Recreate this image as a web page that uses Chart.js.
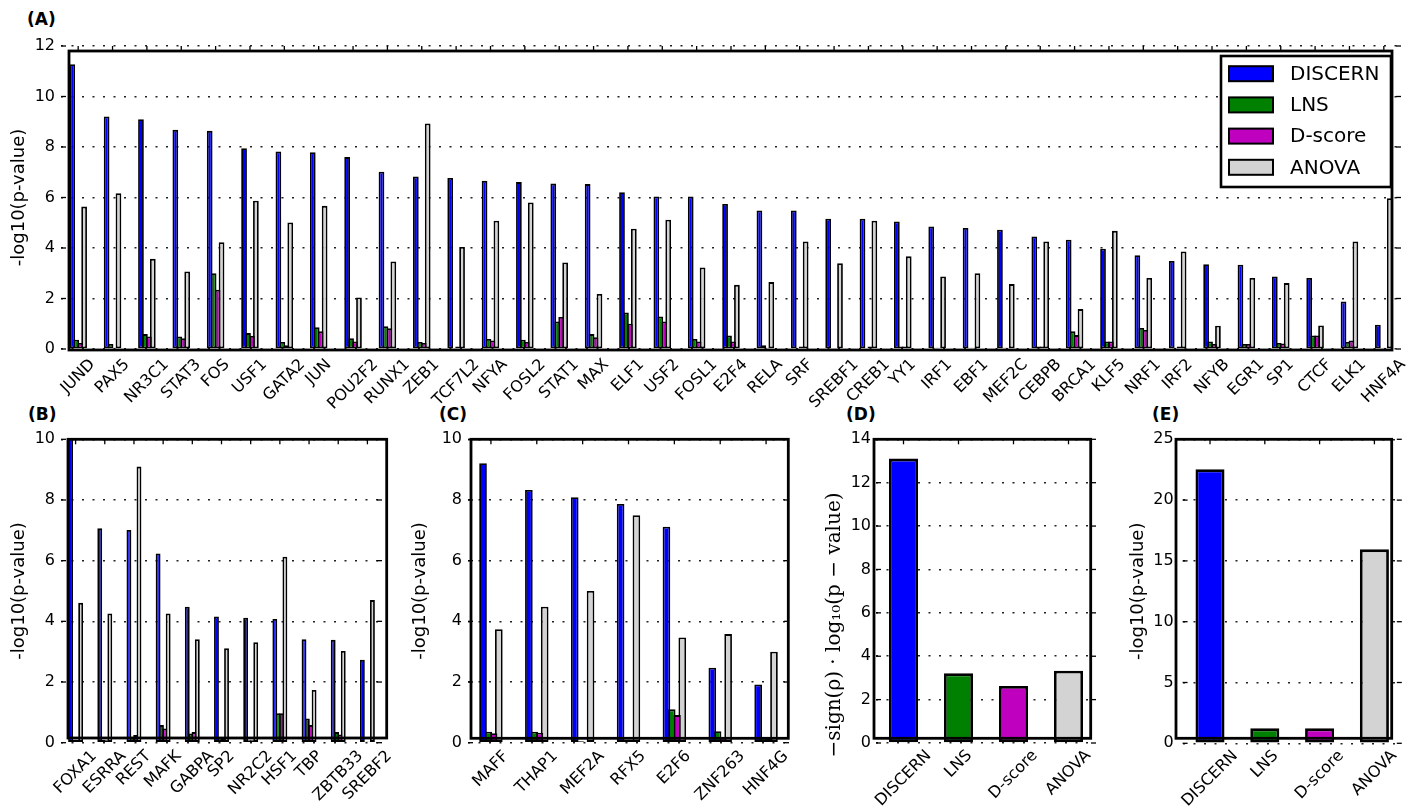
<!DOCTYPE html>
<html>
<head>
<meta charset="utf-8">
<script src="https://cdn.jsdelivr.net/npm/chart.js@4/dist/chart.umd.min.js"></script>
<style>
  html, body { margin: 0; padding: 0; background: #fff; }
  body { width: 1420px; height: 809px; position: relative; overflow: hidden; font-family: 'DejaVu Sans', sans-serif; }
  canvas { position: absolute; }
  .tag { position: absolute; font: bold 17px 'DejaVu Sans', sans-serif; line-height: 20px; color: #000; }
</style>
</head>
<body>
<div class="tag" style="left:27px;top:9px">(A)</div>
<div class="tag" style="left:28px;top:404px">(B)</div>
<div class="tag" style="left:439px;top:404px">(C)</div>
<div class="tag" style="left:846px;top:404px">(D)</div>
<div class="tag" style="left:1152px;top:404px">(E)</div>

<canvas id="cA" width="1420" height="420" style="left:0;top:0"></canvas>
<canvas id="cB" width="400" height="409" style="left:0;top:400px"></canvas>
<canvas id="cC" width="400" height="409" style="left:400px;top:400px"></canvas>
<canvas id="cD" width="310" height="409" style="left:800px;top:400px"></canvas>
<canvas id="cE" width="310" height="409" style="left:1110px;top:400px"></canvas>

<script>
// ---- methods compared ----
const methods = ['DISCERN', 'LNS', 'D-score', 'ANOVA'];
const methodColors = ['#0000ff', '#008000', '#bf00bf', '#d3d3d3'];

// ---- (A) transcription factors ----
const tfA = ['JUND','PAX5','NR3C1','STAT3','FOS','USF1','GATA2','JUN','POU2F2','RUNX1','ZEB1','TCF7L2','NFYA','FOSL2','STAT1','MAX','ELF1','USF2','FOSL1','E2F4','RELA','SRF','SREBF1','CREB1','YY1','IRF1','EBF1','MEF2C','CEBPB','BRCA1','KLF5','NRF1','IRF2','NFYB','EGR1','SP1','CTCF','ELK1','HNF4A'];
const discernA = [11.28, 9.21, 9.10, 8.68, 8.64, 7.95, 7.82, 7.79, 7.60, 7.02, 6.83, 6.77, 6.66, 6.61, 6.55, 6.53, 6.21, 6.04, 6.04, 5.74, 5.49, 5.49, 5.16, 5.16, 5.05, 4.85, 4.79, 4.72, 4.46, 4.33, 3.97, 3.71, 3.49, 3.36, 3.34, 2.87, 2.81, 1.88, 0.96];
const lnsA     = [0.37, 0.20, 0.59, 0.50, 3.00, 0.63, 0.28, 0.86, 0.43, 0.90, 0.28, 0.02, 0.40, 0.37, 1.09, 0.59, 1.45, 1.29, 0.40, 0.53, 0.15, 0.05, 0.02, 0.03, 0.10, 0.05, 0.05, 0.05, 0.10, 0.70, 0.30, 0.83, 0.05, 0.30, 0.20, 0.24, 0.53, 0.28, 0.02];
const dscoreA  = [0.24, 0.05, 0.50, 0.43, 2.35, 0.52, 0.15, 0.70, 0.30, 0.82, 0.24, 0.10, 0.34, 0.28, 1.27, 0.47, 1.00, 1.09, 0.30, 0.30, 0.05, 0.10, 0.02, 0.10, 0.10, 0.05, 0.05, 0.05, 0.10, 0.55, 0.30, 0.75, 0.10, 0.20, 0.20, 0.22, 0.53, 0.34, 0.05];
const anovaA   = [5.64, 6.17, 3.57, 3.07, 4.23, 5.87, 5.01, 5.67, 2.04, 3.47, 8.93, 4.04, 5.08, 5.80, 3.43, 2.18, 4.76, 5.12, 3.23, 2.54, 2.65, 4.26, 3.40, 5.08, 3.67, 2.87, 3.00, 2.57, 4.26, 1.58, 4.68, 2.81, 3.86, 0.92, 2.81, 2.61, 0.93, 4.26, 5.97];
const ticksA = [0, 2, 4, 6, 8, 10, 12];

// ---- (B) ----
const tfB = ['FOXA1','ESRRA','REST','MAFK','GABPA','SP2','NR2C2','HSF1','TBP','ZBTB33','SREBF2'];
const discernB = [12.0, 7.07, 7.01, 6.24, 4.48, 4.16, 4.12, 4.08, 3.41, 3.39, 2.73];
const lnsB     = [0.10, 0.10, 0.20, 0.58, 0.30, 0.17, 0.08, 0.97, 0.80, 0.35, 0.03];
const dscoreB  = [0.10, 0.08, 0.25, 0.47, 0.35, 0.15, 0.08, 0.97, 0.58, 0.27, 0.03];
const anovaB   = [4.61, 4.26, 9.10, 4.26, 3.41, 3.11, 3.31, 6.13, 1.74, 3.02, 4.70];
const ticksB = [0, 2, 4, 6, 8, 10];

// ---- (C) ----
const tfC = ['MAFF','THAP1','MEF2A','RFX5','E2F6','ZNF263','HNF4G'];
const discernC = [9.21, 8.33, 8.09, 7.87, 7.12, 2.47, 1.92];
const lnsC     = [0.36, 0.36, 0.05, 0.10, 1.10, 0.38, 0.19];
const dscoreC  = [0.31, 0.33, 0.03, 0.10, 0.91, 0.19, 0.14];
const anovaC   = [3.74, 4.48, 5.00, 7.50, 3.47, 3.58, 3.00];
const ticksC = [0, 2, 4, 6, 8, 10];

// ---- (D) and (E) summary scores ----
const summaryD = [13.11, 3.21, 2.63, 3.33];
const ticksD = [0, 2, 4, 6, 8, 10, 12, 14];
const summaryE = [22.53, 1.23, 1.23, 15.95];
const ticksE = [0, 5, 10, 15, 20, 25];

const FONT = "'DejaVu Sans', sans-serif";
Chart.defaults.font.family = FONT;
Chart.defaults.color = '#000';

// Inward tick marks, offset box frame, rotated category labels, optional
// hand-placed axis title and an in-plot legend
const panelDecor = {
  id: 'panelDecor',
  afterDatasetsDraw(chart, args, o) {
    const { ctx, chartArea: a } = chart;
    const ys = chart.scales.y, xs = chart.scales.x;
    const seg = (x1, y1, x2, y2) => { ctx.beginPath(); ctx.moveTo(x1, y1); ctx.lineTo(x2, y2); ctx.stroke(); };
    ctx.save();
    ctx.strokeStyle = '#000';
    ctx.lineWidth = 1.3;
    ys.ticks.forEach(t => {
      const y = ys.getPixelForValue(t.value);
      seg(a.left, y, a.left + 5, y);
      seg(a.right - 5, y, a.right, y);
    });
    xs.ticks.forEach((t, i) => {
      const x = xs.getPixelForTick(i);
      seg(x, a.top, x, a.top + 5);
    });
    const f = o.frame;
    ctx.lineWidth = 2.8;
    const L = a.left + f[0], T = a.top + f[1], R = a.right + f[2], B = a.bottom + f[3];
    ctx.strokeRect(L, T, R - L, B - T);
    ctx.restore();
  },
  afterDraw(chart, args, o) {
    const { ctx, chartArea: a } = chart;
    const xs = chart.scales.x;
    ctx.save();
    ctx.fillStyle = '#000';
    ctx.font = '16px ' + FONT;
    ctx.textAlign = 'center';
    ctx.textBaseline = 'middle';
    chart.data.labels.forEach((lab, i) => {
      const x = xs.getPixelForValue(i);
      const w = ctx.measureText(lab).width;
      const box = (w + 17) * Math.SQRT1_2;
      ctx.save();
      ctx.translate(x, a.bottom + o.labelGap + box / 2);
      ctx.rotate(-Math.PI / 4);
      ctx.fillText(lab, 0, 0);
      ctx.restore();
    });
    if (o.yTitle) {
      ctx.save();
      ctx.font = o.yTitle.font;
      ctx.translate(o.yTitle.x, o.yTitle.y);
      ctx.rotate(-Math.PI / 2);
      ctx.fillText(o.yTitle.text, 0, 0);
      ctx.restore();
    }
    if (o.legend) {
      const bw = 170, bh = 131;
      const bx = a.right - 10 - bw, by = a.top + 10;
      ctx.fillStyle = '#fff';
      ctx.fillRect(bx, by, bw, bh);
      ctx.lineWidth = 2.6;
      ctx.strokeStyle = '#000';
      ctx.strokeRect(bx, by, bw, bh);
      ctx.font = '20px ' + FONT;
      ctx.textAlign = 'left';
      chart.data.datasets.forEach((ds, i) => {
        const cy = by + 17.7 + i * 31.2;
        ctx.fillStyle = ds.backgroundColor;
        ctx.fillRect(bx + 8, cy - 7.5, 44, 15);
        ctx.lineWidth = 2;
        ctx.strokeRect(bx + 8, cy - 7.5, 44, 15);
        ctx.fillStyle = '#000';
        ctx.fillText(ds.label, bx + 69, cy + 1);
      });
    }
    ctx.restore();
  }
};

function groupedPanel(id, labels, series, ticks, max, geo) {
  return new Chart(document.getElementById(id), {
    type: 'bar',
    data: {
      labels: labels,
      datasets: series.map((vals, i) => ({
        label: methods[i],
        data: vals,
        backgroundColor: methodColors[i],
        borderColor: '#000',
        borderWidth: 1.8,
        borderSkipped: false,
        // neighbouring bars share their outlines
        categoryPercentage: 0.46,
        barPercentage: 1.45
      }))
    },
    options: baseOptions(ticks, max, geo, '-log10(p-value)', { size: 18, family: FONT }),
    plugins: [panelDecor]
  });
}

function summaryPanel(id, values, ticks, max, geo, title, titleFont) {
  return new Chart(document.getElementById(id), {
    type: 'bar',
    data: {
      labels: methods,
      datasets: [{
        label: title,
        data: values,
        backgroundColor: methodColors,
        borderColor: '#000',
        borderWidth: 2.8,
        borderSkipped: false,
        categoryPercentage: 1.0,
        barPercentage: 0.53
      }]
    },
    options: baseOptions(ticks, max, geo, title, titleFont),
    plugins: [panelDecor]
  });
}

function baseOptions(ticks, max, geo, title, titleFont) {
  return {
    responsive: false,
    animation: false,
    devicePixelRatio: 1,
    layout: { padding: geo.pad },
    plugins: {
      legend: { display: false },
      tooltip: { enabled: false },
      panelDecor: { frame: geo.frame, labelGap: geo.labelGap, legend: !!geo.legend, yTitle: geo.yTitle || null }
    },
    scales: {
      x: {
        grid: { display: false },
        border: { display: false },
        ticks: { display: false },
        afterFit: s => { s.height = geo.xh; }
      },
      y: {
        min: 0,
        max: max,
        afterBuildTicks: s => { s.ticks = ticks.map(v => ({ value: v })); },
        afterFit: s => { s.width = geo.yw; },
        grid: { color: '#222', lineWidth: 1.6, drawTicks: false },
        border: { display: false, dash: [2, 8.5] },
        ticks: { font: { size: 16 }, padding: geo.tickPad, color: '#000' },
        title: { display: !geo.yTitle, text: title, font: titleFont, color: '#000', padding: { top: geo.titlePad, bottom: 0 } }
      }
    }
  };
}

groupedPanel('cA', tfA, [discernA, lnsA, dscoreA, anovaA], ticksA, 12,
  { pad: { left: 0, top: 46, right: 19, bottom: 1 }, yw: 61, xh: 70, tickPad: 6, titlePad: 9,
    frame: [8, 5, -9, 1], labelGap: 7, legend: true });

groupedPanel('cB', tfB, [discernB, lnsB, dscoreB, anovaB], ticksB, 10,
  { pad: { left: 0, top: 39.3, right: 18, bottom: 6.3 }, yw: 61, xh: 60, tickPad: 6, titlePad: 9,
    frame: [7, 0, 4.7, -4.7], labelGap: 5 });

groupedPanel('cC', tfC, [discernC, lnsC, dscoreC, anovaC], ticksC, 10,
  { pad: { left: 0, top: 39.3, right: 11, bottom: 6.3 }, yw: 68, xh: 60, tickPad: 6, titlePad: 10,
    frame: [3, 0, -0.7, -4.4], labelGap: 5 });

summaryPanel('cD', summaryD, ticksD, 14,
  { pad: { left: 0, top: 39.3, right: 14, bottom: 6 }, yw: 76, xh: 60, tickPad: 5, titlePad: 23,
    frame: [-2, 0, -5.3, -4.7], labelGap: 4,
    yTitle: { text: '\u2212sign(\u03C1) \u00B7 log\u2081\u2080(p \u2212 value)', font: "20px 'DejaVu Serif', serif", x: 35, y: 225 } },
  '\u2212sign(\u03C1) \u00B7 log\u2081\u2080(p \u2212 value)', { size: 20, family: "'DejaVu Serif', serif" });

summaryPanel('cE', summaryE, ticksE, 25,
  { pad: { left: 0, top: 39.3, right: 18.2, bottom: 5.7 }, yw: 72.6, xh: 60, tickPad: 9, titlePad: 18,
    frame: [-6.6, 0, -10.1, -5], labelGap: 4 },
  '-log10(p-value)', { size: 18, family: FONT });
</script>
</body>
</html>
